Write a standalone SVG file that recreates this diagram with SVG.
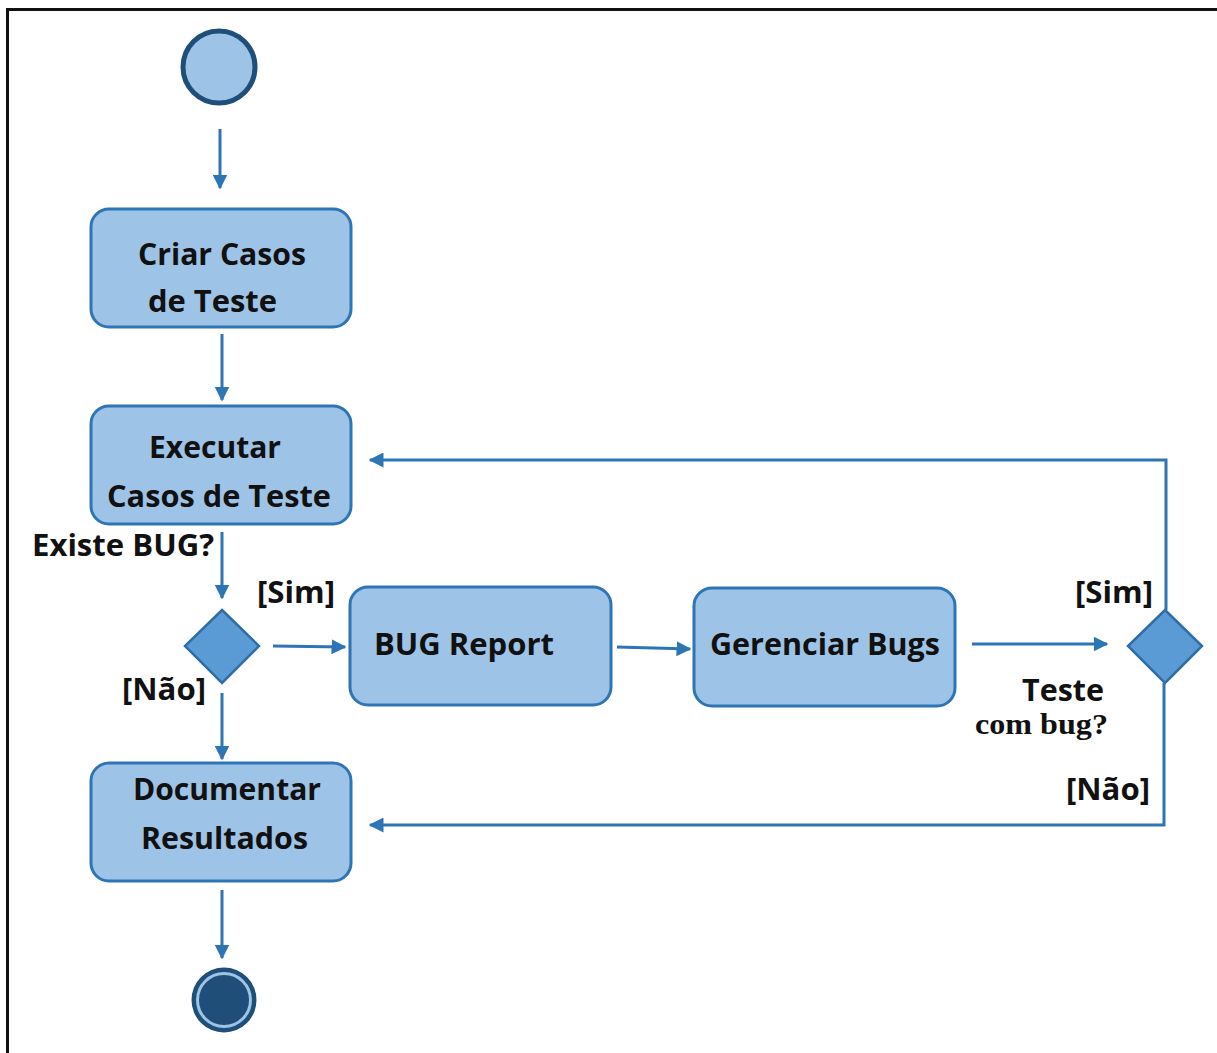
<svg xmlns="http://www.w3.org/2000/svg" width="1217" height="1053" viewBox="0 0 1217 1053">
  <style>
    .act { fill: #9dc3e6; stroke: #2e75b6; stroke-width: 3; }
    .dec { fill: #5b9bd5; stroke: #2f6ea5; stroke-width: 2.5; }
    .lbl { font-family: "Open Sans", "Noto Sans", sans-serif; font-weight: 700; font-size: 30px; fill: #111; }
    .ser { font-family: "Liberation Serif", serif; font-weight: 700; font-size: 29px; fill: #111; }
    .flow { fill: none; stroke: #2e75b6; stroke-width: 3; }
  </style>
  <defs>
    <marker id="arrow" viewBox="0 0 10 10" refX="9" refY="5" markerWidth="5" markerHeight="5" markerUnits="strokeWidth" orient="auto">
      <path d="M0,0 L10,5 L0,10 Z" fill="#2e75b6"/>
    </marker>
  </defs>

  <rect x="0" y="0" width="1217" height="1053" fill="#fff"/>
  <!-- outer frame -->
  <path d="M7.5,1053 V9.5 H1217" fill="none" stroke="#111" stroke-width="3"/>

  <g id="start">
    <circle cx="219" cy="67" r="36" fill="#9dc3e6" stroke="#1f4e79" stroke-width="5"/>
  </g>

  <g id="criar">
    <rect class="act" x="91" y="209" width="260" height="118" rx="18"/>
    <text class="lbl" x="138" y="265" textLength="168" lengthAdjust="spacingAndGlyphs">Criar Casos</text>
    <text class="lbl" x="148" y="312" textLength="129" lengthAdjust="spacingAndGlyphs">de Teste</text>
  </g>

  <g id="executar">
    <rect class="act" x="91" y="406" width="260" height="118" rx="18"/>
    <text class="lbl" x="149" y="458" textLength="132" lengthAdjust="spacingAndGlyphs">Executar</text>
    <text class="lbl" x="107" y="507" textLength="224" lengthAdjust="spacingAndGlyphs">Casos de Teste</text>
  </g>

  <g id="decisao1">
    <polygon class="dec" points="222,610 259,646 222,683 185,646"/>
    <text class="lbl" x="32" y="556" textLength="182" lengthAdjust="spacingAndGlyphs">Existe BUG?</text>
    <text class="lbl" x="257" y="603" textLength="78" lengthAdjust="spacingAndGlyphs">[Sim]</text>
    <text class="lbl" x="122" y="700" textLength="84" lengthAdjust="spacingAndGlyphs">[Não]</text>
  </g>

  <g id="bugreport">
    <rect class="act" x="350" y="587" width="261" height="118" rx="18"/>
    <text class="lbl" x="374" y="655" textLength="180" lengthAdjust="spacingAndGlyphs">BUG Report</text>
  </g>

  <g id="gerenciar">
    <rect class="act" x="694" y="588" width="261" height="118" rx="18"/>
    <text class="lbl" x="710" y="655" textLength="230" lengthAdjust="spacingAndGlyphs">Gerenciar Bugs</text>
  </g>

  <g id="decisao2">
    <polygon class="dec" points="1165,610 1202,646 1165,683 1128,646"/>
    <text class="lbl" x="1075" y="603" textLength="78" lengthAdjust="spacingAndGlyphs">[Sim]</text>
    <text class="lbl" x="1022" y="701" textLength="82" lengthAdjust="spacingAndGlyphs">Teste</text>
    <text class="ser" x="975" y="734" textLength="133" lengthAdjust="spacingAndGlyphs">com bug?</text>
    <text class="lbl" x="1066" y="800" textLength="84" lengthAdjust="spacingAndGlyphs">[Não]</text>
  </g>

  <g id="documentar">
    <rect class="act" x="91" y="763" width="260" height="118" rx="18"/>
    <text class="lbl" x="133" y="800" textLength="188" lengthAdjust="spacingAndGlyphs">Documentar</text>
    <text class="lbl" x="141" y="849" textLength="167" lengthAdjust="spacingAndGlyphs">Resultados</text>
  </g>

  <g id="fim">
    <circle cx="224" cy="1000" r="32.5" fill="#1f4e79"/>
    <circle cx="224" cy="1000" r="26.5" fill="none" stroke="#9dc3e6" stroke-width="3"/>
  </g>

  <g id="connectors">
    <line class="flow" x1="220" y1="129" x2="220" y2="188" marker-end="url(#arrow)"/>
    <line class="flow" x1="222" y1="334" x2="222" y2="400" marker-end="url(#arrow)"/>
    <line class="flow" x1="222" y1="532" x2="222" y2="598" marker-end="url(#arrow)"/>
    <line class="flow" x1="273" y1="646" x2="345" y2="647" marker-end="url(#arrow)"/>
    <line class="flow" x1="617" y1="647" x2="690" y2="649" marker-end="url(#arrow)"/>
    <line class="flow" x1="972" y1="644" x2="1107" y2="644" marker-end="url(#arrow)"/>
    <polyline class="flow" points="1166,610 1166,460 370,460" marker-end="url(#arrow)"/>
    <polyline class="flow" points="1164,683 1164,825 370,825" marker-end="url(#arrow)"/>
    <line class="flow" x1="222" y1="693" x2="222" y2="759" marker-end="url(#arrow)"/>
    <line class="flow" x1="222" y1="890" x2="222" y2="958" marker-end="url(#arrow)"/>
  </g>
</svg>
